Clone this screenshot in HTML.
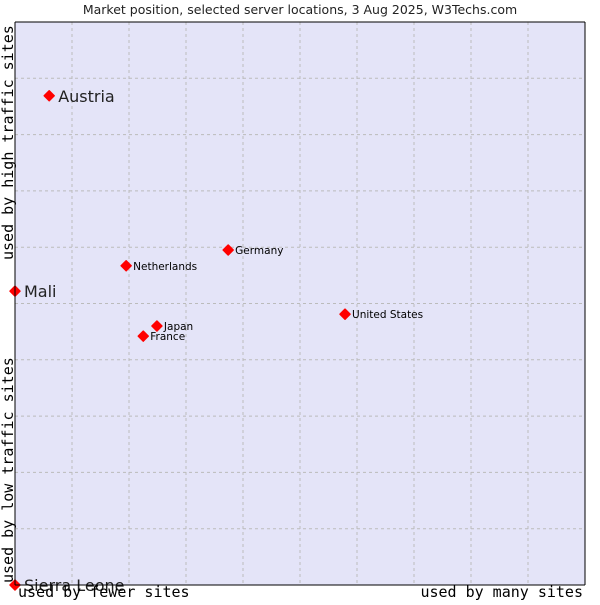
<!DOCTYPE html>
<html><head><meta charset="utf-8"><style>
body{margin:0;background:#fff;}
svg text{font-family:"DejaVu Sans","Liberation Sans",sans-serif;}
.mono{font-family:"DejaVu Sans Mono","Liberation Mono",monospace !important;}
</style></head><body>
<svg id="chart" width="600" height="600" xmlns="http://www.w3.org/2000/svg">
<text x="300" y="14" text-anchor="middle" font-size="12.5" fill="#222">Market position, selected server locations, 3 Aug 2025, W3Techs.com</text>
<rect x="15" y="22" width="570" height="563" fill="#e4e4f8"/>
<g id="grid"></g>
<g id="pts"></g>
<line x1="15" y1="22" x2="15" y2="585" stroke="#000"/>
<line x1="15" y1="585" x2="585" y2="585" stroke="#000"/>
<line x1="15" y1="22" x2="585" y2="22" stroke="#000"/>
<line x1="585" y1="22" x2="585" y2="585" stroke="#000"/>
<text class="mono" x="18" y="597" font-size="15" fill="#000">used by fewer sites</text>
<text class="mono" x="583" y="597" font-size="15" text-anchor="end" fill="#000">used by many sites</text>
<text class="mono" transform="translate(13,583) rotate(-90)" font-size="15" fill="#000">used by low traffic sites</text>
<text class="mono" transform="translate(13,260) rotate(-90)" font-size="15" fill="#000">used by high traffic sites</text>
</svg>
<script>
const names=["Austria","Mali","Sierra Leone","Netherlands","Germany","United States","Japan","France"];
const xVals=[6.0,0,0,19.5,37.4,57.9,24.9,22.5];
const yVals=[86.9,52.2,0,56.7,59.5,48.1,46.0,44.2];
const bigLabel=[true,true,true,false,false,false,false,false];
const X0=15,X1=585,Y0=585,Y1=22;
const sx=v=>X0+v/100*(X1-X0);
const sy=v=>Y0-v/100*(Y0-Y1);
const NS="http://www.w3.org/2000/svg";
const grid=document.getElementById('grid');
for(let i=1;i<10;i++){
 const l=document.createElementNS(NS,'line');
 const x=sx(i*10);
 l.setAttribute('x1',x);l.setAttribute('x2',x);l.setAttribute('y1',Y1);l.setAttribute('y2',Y0);
 l.setAttribute('stroke','#bbb');l.setAttribute('stroke-dasharray','3,3');
 
 
 grid.appendChild(l);
 const h=document.createElementNS(NS,'line');
 const y=sy(i*10);
 h.setAttribute('x1',X0);h.setAttribute('x2',X1);h.setAttribute('y1',y);h.setAttribute('y2',y);
 h.setAttribute('stroke','#bbb');h.setAttribute('stroke-dasharray','3,3');
 
 
 grid.appendChild(h);
}
const pts=document.getElementById('pts');
names.forEach((n,i)=>{
 const x=sx(xVals[i]),y=sy(yVals[i]);
 const p=document.createElementNS(NS,'polygon');
 p.setAttribute('points',`${x},${y-5} ${x+5},${y} ${x},${y+5} ${x-5},${y}`);
 p.setAttribute('fill','#f00');
 p.setAttribute('stroke','#f00');
 p.setAttribute('stroke-width','1.5');
 p.setAttribute('stroke-linejoin','round');
 
 
 pts.appendChild(p);
 const t=document.createElementNS(NS,'text');
 const big=bigLabel[i];
 t.setAttribute('x',x+(big?9:7));t.setAttribute('y',y+(big?6:4));
 t.setAttribute('font-size',big?16:10.5);
 t.setAttribute('fill',big?'#222':'#000');
 t.textContent=n;
 
 
 pts.appendChild(t);
});
</script>
</body></html>
